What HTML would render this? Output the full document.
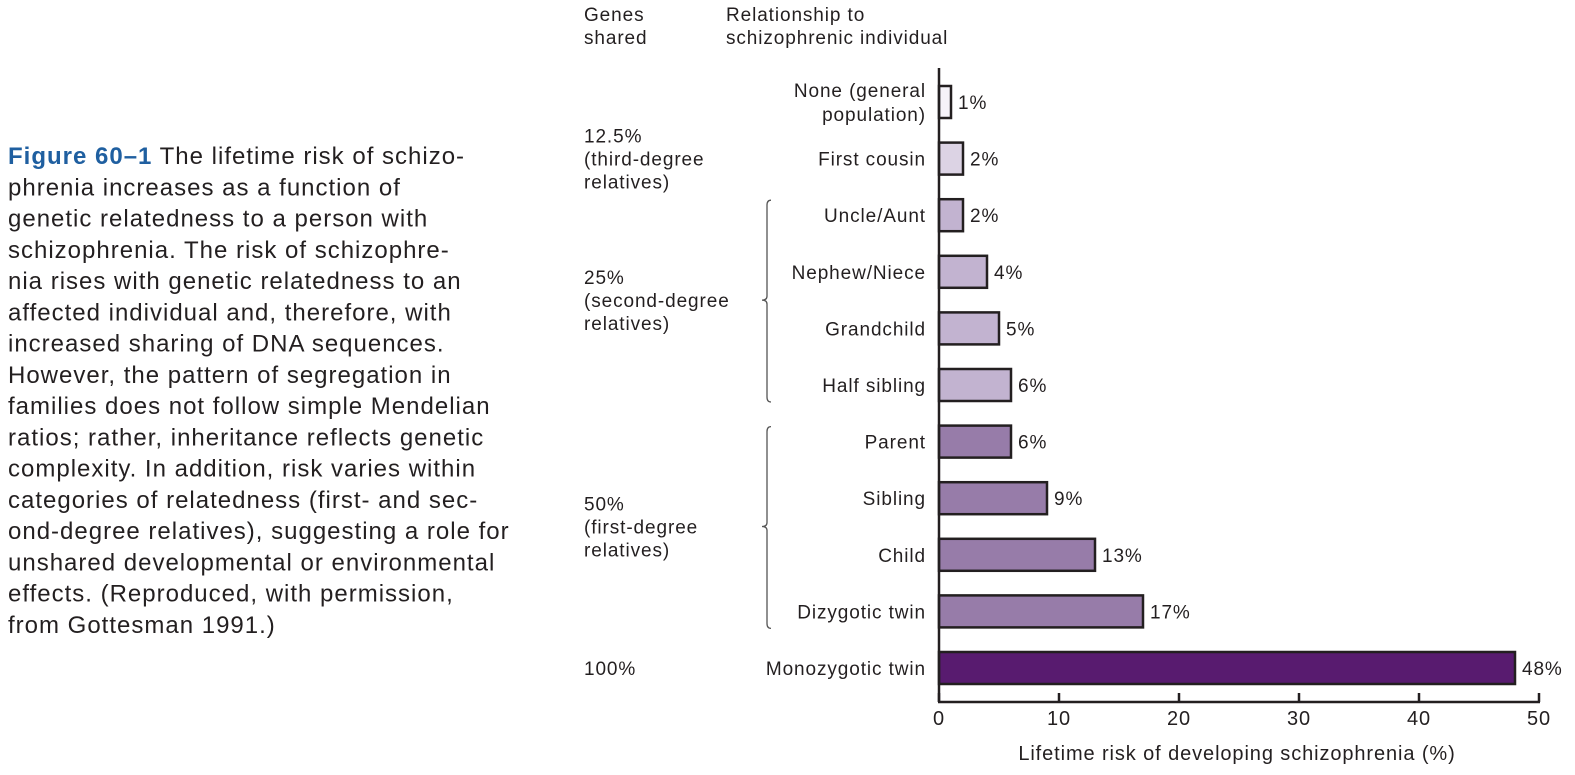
<!DOCTYPE html>
<html><head><meta charset="utf-8"><style>
body{margin:0;background:#fff;width:1575px;height:775px;overflow:hidden}
svg{display:block;font-family:"Liberation Sans",sans-serif}
#plot text{letter-spacing:0.9px}
#caption text{letter-spacing:1.0px}
</style></head><body>
<svg id="chart" width="1575" height="775">
<g id="caption" font-size="24" fill="#231f20"></g>
<g id="plot"></g>
</svg>
<script>
const categories=["None (general|population)","First cousin","Uncle/Aunt","Nephew/Niece","Grandchild","Half sibling","Parent","Sibling","Child","Dizygotic twin","Monozygotic twin"];
const riskValues=[1,2,2,4,5,6,6,9,13,17,48];
const valueLabels=["1%","2%","2%","4%","5%","6%","6%","9%","13%","17%","48%"];
const barColors=["#f6f3f9","#dcd3e4","#c2b3d0","#c2b3d0","#c2b3d0","#c2b3d0","#977ca9","#977ca9","#977ca9","#977ca9","#581b6f"];
const xTicks=[0,10,20,30,40,50];
const groups=[{lines:["12.5%","(third-degree","relatives)"],from:1,to:1,brace:false},{lines:["25%","(second-degree","relatives)"],from:2,to:5,brace:true},{lines:["50%","(first-degree","relatives)"],from:6,to:9,brace:true},{lines:["100%"],from:10,to:10,brace:false}];
const captionLines=["phrenia increases as a function of","genetic relatedness to a person with","schizophrenia.  The risk of schizophre-","nia rises with genetic relatedness to an","affected individual and, therefore, with","increased sharing of DNA sequences.","However, the pattern of segregation in","families does not follow simple Mendelian","ratios; rather, inheritance reflects genetic","complexity. In addition, risk varies within","categories of relatedness (first- and sec-","ond-degree relatives), suggesting a role for","unshared developmental or environmental","effects. (Reproduced, with permission,","from Gottesman 1991.)"];

const NS="http://www.w3.org/2000/svg";
function mk(tag,attrs,parent){const e=document.createElementNS(NS,tag);for(const k in attrs)e.setAttribute(k,attrs[k]);parent.appendChild(e);return e;}
const x0=939,pxPer=12;
const xs=v=>x0+v*pxPer;
const yc=i=>102+i*56.6;
const plot=document.getElementById('plot');
const cap=document.getElementById('caption');

let t=mk('text',{x:8,y:164},cap);


let s1=mk('tspan',{fill:'#1f5fa0','font-weight':'bold'},t);s1.textContent='Figure 60–1';
let s2=mk('tspan',{},t);s2.textContent='  The lifetime risk of schizo-';
captionLines.forEach((ln,i)=>{
  const e=mk('text',{x:8,y:164+(i+1)*31.25},cap);
  
  
  e.textContent=ln;
});

const hdr=[["Genes",584,21],["shared",584,44],["Relationship to",726,21],["schizophrenic individual",726,44]];
hdr.forEach(h=>{const e=mk('text',{x:h[1],y:h[2],'font-size':19,fill:'#231f20'},plot);


e.textContent=h[0];});

categories.forEach((c,i)=>{
  const y=yc(i);
  const r=mk('rect',{x:x0,y:y-16,width:xs(riskValues[i])-x0,height:32,fill:barColors[i],stroke:'#231f20','stroke-width':2.5},plot);
  
  
  const v=mk('text',{x:xs(riskValues[i])+7,y:y+7,'font-size':19,fill:'#231f20'},plot);
  
  
  v.textContent=valueLabels[i];
  const parts=c.split('|');
  parts.forEach((p,j)=>{
    const l=mk('text',{x:926,y:y+7+(j-(parts.length-1)/2)*24,'font-size':19,fill:'#231f20','text-anchor':'end'},plot);
    
    
    l.textContent=p;
  });
});

groups.forEach(g=>{
  const mid=(yc(g.from)+yc(g.to))/2;
  g.lines.forEach((ln,j)=>{
    const e=mk('text',{x:584,y:mid+7+(j-(g.lines.length-1)/2)*23,'font-size':19,fill:'#231f20'},plot);
    
    
    e.textContent=ln;
  });
  if(g.brace){
    const top=yc(g.from)-15,bot=yc(g.to)+17,bx=767;
    const p=mk('path',{d:`M${bx+4},${top} Q${bx},${top} ${bx},${top+5} L${bx},${mid-4} Q${bx},${mid} ${bx-5},${mid} Q${bx},${mid} ${bx},${mid+4} L${bx},${bot-5} Q${bx},${bot} ${bx+4},${bot}`,fill:'none',stroke:'#555','stroke-width':1.3},plot);
    
    
  }
});

const ax=mk('line',{x1:x0,y1:68,x2:x0,y2:702,stroke:'#231f20','stroke-width':2.5},plot);


const bx=mk('line',{x1:x0-1,y1:702,x2:xs(50)+1,y2:702,stroke:'#231f20','stroke-width':2.5},plot);


xTicks.forEach(v=>{
  const tk=mk('line',{x1:xs(v),y1:693,x2:xs(v),y2:702,stroke:'#231f20','stroke-width':2.5},plot);
  
  
  const l=mk('text',{x:xs(v),y:725,'font-size':20,fill:'#231f20','text-anchor':'middle'},plot);
  
  
  l.textContent=v;
});
const xt=mk('text',{x:1237,y:760,'font-size':20,fill:'#231f20','text-anchor':'middle'},plot);


xt.textContent='Lifetime risk of developing schizophrenia (%)';
</script>
</body></html>
